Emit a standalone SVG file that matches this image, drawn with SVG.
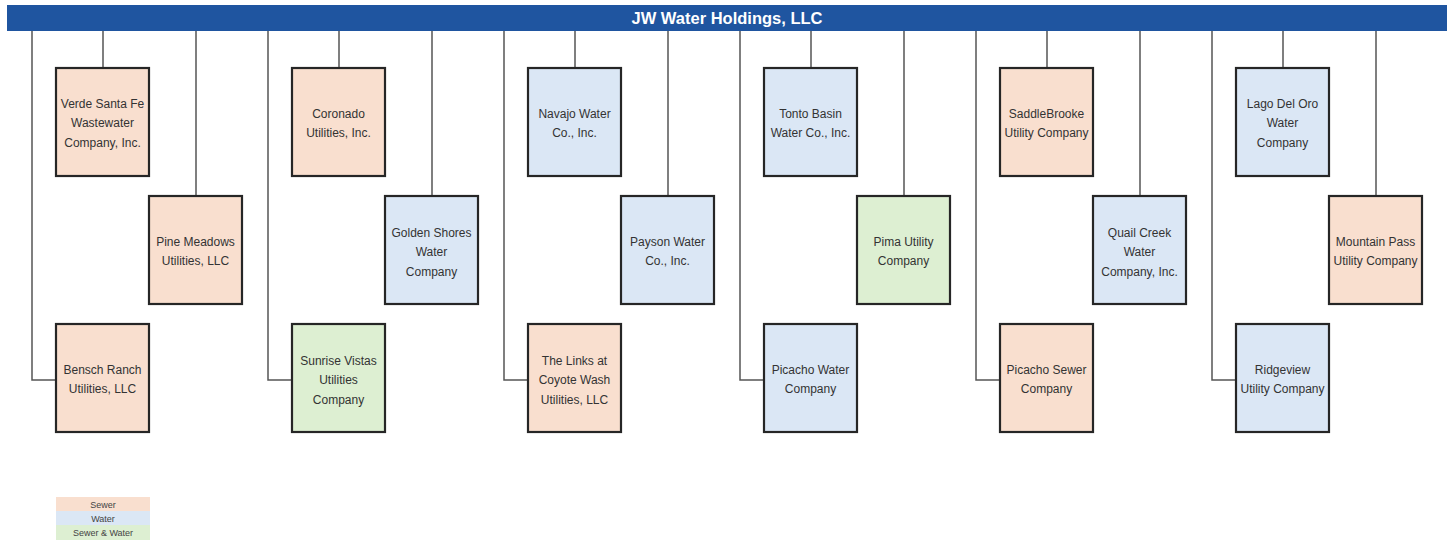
<svg xmlns="http://www.w3.org/2000/svg" width="1452" height="548" viewBox="0 0 1452 548">
<style>
.box{stroke:#262626;stroke-width:2.2}
.sewer{fill:#f9dfcf}
.water{fill:#dbe7f5}
.both{fill:#ddefd2}
.t{font-family:"Liberation Sans",Arial,sans-serif;font-size:12px;fill:#333333;text-anchor:middle}
.c{stroke:#555;stroke-width:1.5;fill:none}
.lg{font-family:"Liberation Sans",Arial,sans-serif;font-size:9px;fill:#444;text-anchor:middle}
</style>
<rect x="0" y="0" width="1452" height="548" fill="#ffffff"/>
<g id="connectors">
<path class="c" d="M32 31V380H56M103 31V68M196 31V196"/>
<path class="c" d="M268 31V380H292M339 31V68M432 31V196"/>
<path class="c" d="M504 31V380H528M575 31V68M668 31V196"/>
<path class="c" d="M740 31V380H764M811 31V68M904 31V196"/>
<path class="c" d="M976 31V380H1000M1047 31V68M1140 31V196"/>
<path class="c" d="M1212 31V380H1236M1283 31V68M1376 31V196"/>
</g>
<g id="root">
<rect x="7" y="5" width="1440" height="26" fill="#1f55a0"/>
<text x="727" y="24" font-family="'Liberation Sans',Arial,sans-serif" font-size="16.5" font-weight="bold" fill="#ffffff" text-anchor="middle">JW Water Holdings, LLC</text>
</g>
<g id="verde"><rect class="box sewer" x="56" y="68" width="93" height="108"/><text class="t" x="102.5" y="107.5">Verde Santa Fe<tspan x="102.5" dy="19.5">Wastewater</tspan><tspan x="102.5" dy="19.5">Company, Inc.</tspan></text></g>
<g id="pine"><rect class="box sewer" x="149" y="196" width="93" height="108"/><text class="t" x="195.5" y="245.5">Pine Meadows<tspan x="195.5" dy="19.5">Utilities, LLC</tspan></text></g>
<g id="bensch"><rect class="box sewer" x="56" y="324" width="93" height="108"/><text class="t" x="102.5" y="373.5">Bensch Ranch<tspan x="102.5" dy="19.5">Utilities, LLC</tspan></text></g>

<g id="coronado"><rect class="box sewer" x="292" y="68" width="93" height="108"/><text class="t" x="338.5" y="117.5">Coronado<tspan x="338.5" dy="19.5">Utilities, Inc.</tspan></text></g>
<g id="golden"><rect class="box water" x="385" y="196" width="93" height="108"/><text class="t" x="431.5" y="236.5">Golden Shores<tspan x="431.5" dy="19.5">Water</tspan><tspan x="431.5" dy="19.5">Company</tspan></text></g>
<g id="sunrise"><rect class="box both" x="292" y="324" width="93" height="108"/><text class="t" x="338.5" y="364.5">Sunrise Vistas<tspan x="338.5" dy="19.5">Utilities</tspan><tspan x="338.5" dy="19.5">Company</tspan></text></g>

<g id="navajo"><rect class="box water" x="528" y="68" width="93" height="108"/><text class="t" x="574.5" y="117.5">Navajo Water<tspan x="574.5" dy="19.5">Co., Inc.</tspan></text></g>
<g id="payson"><rect class="box water" x="621" y="196" width="93" height="108"/><text class="t" x="667.5" y="245.5">Payson Water<tspan x="667.5" dy="19.5">Co., Inc.</tspan></text></g>
<g id="links"><rect class="box sewer" x="528" y="324" width="93" height="108"/><text class="t" x="574.5" y="364.5">The Links at<tspan x="574.5" dy="19.5">Coyote Wash</tspan><tspan x="574.5" dy="19.5">Utilities, LLC</tspan></text></g>

<g id="tonto"><rect class="box water" x="764" y="68" width="93" height="108"/><text class="t" x="810.5" y="117.5">Tonto Basin<tspan x="810.5" dy="19.5">Water Co., Inc.</tspan></text></g>
<g id="pima"><rect class="box both" x="857" y="196" width="93" height="108"/><text class="t" x="903.5" y="245.5">Pima Utility<tspan x="903.5" dy="19.5">Company</tspan></text></g>
<g id="picacho-water"><rect class="box water" x="764" y="324" width="93" height="108"/><text class="t" x="810.5" y="373.5">Picacho Water<tspan x="810.5" dy="19.5">Company</tspan></text></g>

<g id="saddlebrooke"><rect class="box sewer" x="1000" y="68" width="93" height="108"/><text class="t" x="1046.5" y="117.5">SaddleBrooke<tspan x="1046.5" dy="19.5">Utility Company</tspan></text></g>
<g id="quail"><rect class="box water" x="1093" y="196" width="93" height="108"/><text class="t" x="1139.5" y="236.5">Quail Creek<tspan x="1139.5" dy="19.5">Water</tspan><tspan x="1139.5" dy="19.5">Company, Inc.</tspan></text></g>
<g id="picacho-sewer"><rect class="box sewer" x="1000" y="324" width="93" height="108"/><text class="t" x="1046.5" y="373.5">Picacho Sewer<tspan x="1046.5" dy="19.5">Company</tspan></text></g>

<g id="lago"><rect class="box water" x="1236" y="68" width="93" height="108"/><text class="t" x="1282.5" y="107.5">Lago Del Oro<tspan x="1282.5" dy="19.5">Water</tspan><tspan x="1282.5" dy="19.5">Company</tspan></text></g>
<g id="mountain"><rect class="box sewer" x="1329" y="196" width="93" height="108"/><text class="t" x="1375.5" y="245.5">Mountain Pass<tspan x="1375.5" dy="19.5">Utility Company</tspan></text></g>
<g id="ridgeview"><rect class="box water" x="1236" y="324" width="93" height="108"/><text class="t" x="1282.5" y="373.5">Ridgeview<tspan x="1282.5" dy="19.5">Utility Company</tspan></text></g>

<g id="legend">
<rect x="56" y="497" width="94" height="14" class="sewer"/>
<rect x="56" y="511" width="94" height="14" class="water"/>
<rect x="56" y="525" width="94" height="15" class="both"/>
<text class="lg" x="103" y="507.5">Sewer</text>
<text class="lg" x="103" y="521.5">Water</text>
<text class="lg" x="103" y="536">Sewer &amp; Water</text>
</g>
</svg>
